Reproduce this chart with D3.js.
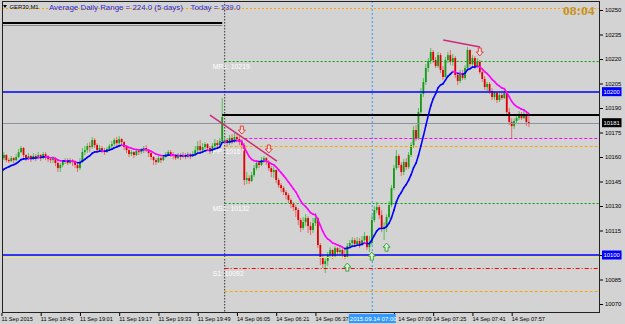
<!DOCTYPE html>
<html><head><meta charset="utf-8">
<script src="https://cdn.jsdelivr.net/npm/d3@7"></script>
<style>
html,body{margin:0;padding:0;background:#d3d3d3;}
svg{display:block;font-family:"Liberation Sans",Arial,sans-serif;}
</style></head><body>
<svg id="c" width="625" height="324"></svg>
<script>
// ---------- DATA (GER30, M1) ----------
const firstOpen = 10158.1;      // open of the first visible Friday bar
const mondayOpen = 10168.5;     // Monday gap open
const closesFri = [10159.3,10161.2,10158.1,10157.5,10159.3,10158.1,10160.0,10163.0,10165.5,10161.2,
10159.3,10160.6,10158.7,10160.6,10160.0,10161.2,10159.3,10161.8,10160.6,10158.7,
10158.1,10159.3,10156.3,10153.2,10155.1,10156.9,10158.1,10156.3,10158.1,10156.9,
10155.1,10153.2,10156.9,10163.0,10164.2,10166.7,10166.1,10170.4,10167.3,10164.2,
10165.5,10164.2,10163.0,10164.9,10166.7,10167.9,10170.4,10168.5,10171.0,10169.1,
10166.1,10164.2,10161.8,10163.0,10161.2,10163.6,10163.0,10164.2,10165.5,10164.2,
10162.4,10160.0,10158.1,10156.9,10159.3,10158.1,10160.0,10161.2,10163.0,10161.8,
10160.6,10159.3,10161.2,10160.0,10161.2,10160.0,10161.8,10160.6,10161.8,10164.2,
10166.7,10164.2,10166.1,10167.9,10165.5,10163.6,10166.7,10168.5,10167.3,10169.8,
10184.5];
const highsFri = [10162.4,10163.0,10161.8,10159.3,10160.6,10160.0,10161.8,10164.9,10166.7,10166.1,
10161.8,10162.4,10161.2,10162.4,10161.8,10163.0,10161.8,10163.0,10163.0,10161.2,
10160.0,10160.6,10160.0,10157.5,10156.3,10158.1,10159.3,10159.3,10159.3,10158.7,
10158.1,10156.3,10159.3,10165.5,10166.7,10168.5,10169.1,10172.2,10171.6,10168.5,
10167.3,10166.7,10165.5,10166.1,10167.9,10169.8,10171.6,10172.2,10172.8,10171.6,
10169.8,10166.7,10164.9,10164.2,10163.6,10164.9,10164.9,10165.5,10166.7,10167.3,
10164.9,10163.0,10160.6,10159.3,10160.6,10160.0,10161.2,10163.0,10164.2,10164.2,
10163.0,10161.8,10162.4,10162.4,10163.0,10162.4,10163.0,10162.4,10163.6,10166.7,
10169.8,10170.4,10168.5,10169.1,10168.5,10166.7,10168.5,10171.0,10170.4,10171.6,
10196.1];
const lowsFri = [10156.9,10158.1,10156.9,10156.3,10156.9,10156.3,10157.5,10159.3,10162.4,10159.3,
10157.5,10158.1,10156.9,10158.1,10157.5,10158.7,10157.5,10158.7,10158.1,10156.9,
10156.3,10156.3,10154.4,10150.8,10150.8,10153.8,10155.7,10155.1,10155.7,10154.4,
10153.2,10150.8,10152.0,10156.3,10161.2,10162.4,10163.0,10164.9,10165.5,10162.4,
10163.0,10162.4,10161.2,10162.4,10163.6,10165.5,10166.7,10166.7,10167.3,10166.7,
10164.2,10162.4,10160.0,10160.6,10159.3,10160.6,10161.2,10161.8,10162.4,10163.0,
10160.0,10158.1,10155.1,10155.1,10156.3,10156.3,10157.5,10159.3,10160.6,10160.0,
10158.7,10158.1,10158.7,10158.1,10159.3,10158.7,10159.3,10158.7,10160.0,10160.6,
10163.0,10163.0,10163.0,10164.9,10163.6,10161.8,10162.4,10165.5,10165.5,10166.7,
10168.5];
const closesMon = [10170.4,10168.5,10171.6,10169.8,10172.2,10171.0,10169.1,10167.3,10145.9,
10147.1,10145.3,10148.9,10153.2,10156.3,10155.1,10158.1,10159.3,10156.9,10153.2,
10150.8,10152.0,10145.9,10142.8,10141.0,10138.5,10136.7,10133.6,10131.2,10129.3,
10127.5,10121.4,10116.5,10120.2,10122.6,10117.7,10115.3,10119.5,10122.6,10106.1,
10098.1,10094.4,10096.3,10099.9,10103.0,10099.3,10104.2,10101.8,10103.0,10100.6,
10098.7,10105.5,10107.3,10109.1,10106.7,10108.5,10106.7,10109.1,10111.6,10104.8,
10107.3,10121.4,10127.5,10129.3,10124.4,10116.5,10117.1,10123.2,10130.6,10141.0,
10153.2,10160.6,10155.1,10150.8,10156.9,10153.8,10161.2,10167.3,10176.5,10171.6,
10187.5,10198.6,10205.9,10214.5,10218.8,10224.3,10219.4,10215.7,10222.4,10213.3,
10209.0,10219.4,10222.4,10218.2,10220.6,10210.2,10206.5,10211.4,10208.4,10214.5,
10225.5,10216.9,10220.6,10215.7,10218.2,10212.0,10207.8,10202.8,10204.7,10200.4,
10196.7,10199.2,10194.9,10197.9,10196.1,10199.2,10187.5,10181.4,10178.9,10182.0,
10183.8,10186.3,10183.8,10186.3,10181.4,10180.8];
const highsMon = [10172.2,10171.6,10173.4,10174.0,10174.7,10174.0,10172.8,10171.0,10168.5,
10150.8,10148.9,10150.8,10155.1,10158.1,10158.1,10160.0,10160.6,10160.0,10158.1,
10154.4,10154.4,10152.6,10147.1,10144.0,10142.2,10139.7,10137.9,10134.8,10132.4,
10130.6,10128.7,10122.6,10123.2,10125.0,10123.8,10120.2,10122.6,10125.7,10123.2,
10107.3,10099.9,10098.1,10101.8,10104.8,10103.6,10105.5,10104.8,10105.5,10104.8,
10104.2,10107.3,10109.1,10111.0,10110.4,10111.0,10110.4,10111.6,10114.0,10112.2,
10111.6,10124.4,10129.9,10132.4,10130.6,10127.5,10120.2,10125.0,10133.0,10142.8,
10155.1,10164.2,10161.8,10156.9,10158.7,10159.3,10163.0,10169.1,10178.9,10179.6,
10190.0,10202.2,10208.4,10216.9,10220.6,10226.7,10225.5,10221.2,10224.3,10223.7,
10215.7,10221.2,10224.3,10225.5,10223.1,10221.8,10212.0,10213.3,10213.3,10216.3,
10227.3,10226.1,10222.4,10221.8,10220.6,10219.4,10213.9,10209.6,10205.9,10205.9,
10202.2,10200.4,10199.8,10199.2,10199.2,10201.0,10199.8,10190.0,10183.8,10183.8,
10185.7,10188.1,10187.5,10188.1,10186.9,10185.1];
const lowsMon = [10167.9,10166.1,10167.3,10167.9,10168.5,10169.1,10167.3,10164.2,10142.8,
10143.4,10143.4,10144.6,10147.7,10152.0,10153.2,10154.4,10156.3,10155.1,10151.4,
10147.7,10147.1,10144.0,10141.0,10138.5,10136.7,10134.2,10131.8,10128.7,10126.9,
10123.2,10118.3,10114.0,10115.3,10117.7,10113.4,10112.2,10113.4,10117.7,10104.2,
10093.8,10092.0,10088.9,10093.2,10098.1,10097.5,10098.7,10099.9,10099.3,10098.1,
10097.5,10098.1,10104.2,10105.5,10104.8,10105.5,10104.2,10105.5,10107.3,10103.0,
10101.8,10106.1,10120.2,10125.7,10122.0,10114.0,10109.1,10114.0,10122.0,10129.3,
10139.7,10152.0,10153.2,10148.3,10148.9,10152.0,10152.6,10160.0,10165.5,10169.8,
10170.4,10185.7,10196.7,10204.1,10212.0,10216.9,10217.5,10214.5,10214.5,10211.4,
10207.1,10208.4,10217.5,10216.3,10215.7,10208.4,10204.1,10205.3,10207.1,10207.1,
10213.3,10215.1,10215.7,10213.9,10214.5,10210.8,10205.9,10201.0,10200.4,10198.6,
10194.9,10194.9,10193.0,10193.6,10194.9,10195.5,10185.7,10179.6,10171.6,10177.1,
10180.2,10182.6,10182.6,10183.2,10178.9,10178.3];

const maSeed = 10150.9;      // MA value at the first visible bar
const maPeriod = 12;

const yTicks = [10250,10235,10220,10205,10190,10175,10160,10145,10130,10115,10100,10085,10070];
const xTickIdx = [0,16,32,48,64,80,96,112,128,160,176,192,208];
const xTickLabels = ["11 Sep 2015","11 Sep 18:45","11 Sep 19:01","11 Sep 19:17","11 Sep 19:33","11 Sep 19:49",
  "14 Sep 06:05","14 Sep 06:21","14 Sep 06:37","14 Sep 07:09","14 Sep 07:25","14 Sep 07:41","14 Sep 07:57"];
const cursorIdx = 151, cursorLabel = "2015.09.14 07:00";
const dayStartIdx = 91;

const levelNames  = ["adrHigh","prevHigh","prevHigh2","mr1","r200","dayHigh","mag","pivot","ms1","r100","yel","s1","adrLow"];
const levelValues = [10251.2, 10242.0, 10240.6, 10218.6, 10200.0, 10185.7, 10171.6, 10166.7, 10131.6, 10100.0, 10098.7, 10092.0, 10078.0];
const levelTexts  = {mr1:"MR1: 10219", pivot:"PP: 10167", ms1:"MS1: 10132", s1:"S1: 10092"};
const boxValues = [10200, 10100];

const sellIdx = [98, 109, 195], sellPrice = [10176.5, 10164.9, 10224.3];
const buyIdx  = [141, 151, 157], buyPrice  = [10092.6, 10099.3, 10104.8];
const trendLines = [[85.0, 10185.7, 112.3, 10157.5],[180.1, 10231.6, 195.1, 10227.3]];
const adrText = "Average Daily Range = 224.0 (5 days)", todayText = "Today = 139.0";
const symbolText = "GER30,M1", clockText = "08:04";

// ---------- BUILD ----------
const closes = closesFri.concat(closesMon);
const highs = highsFri.concat(highsMon);
const lows = lowsFri.concat(lowsMon);
const bars = closes.map((c,i)=>({i,
  o: i===0 ? firstOpen : (i===dayStartIdx ? mondayOpen : closes[i-1]),
  h: highs[i], l: lows[i], c}));
const N = bars.length;
const lastClose = closes[N-1];

const W = 625, H = 324;
const L = 2, R = 600, T = 1, B = 313;
const svg = d3.select("#c");
const x = d3.scaleLinear().domain([0, 215]).range([1.45, 1.45 + 215*2.453]);
const y = d3.scaleLinear().domain([10070, 10250]).range([304, 10]);

svg.append("rect").attr("width",W).attr("height",H).attr("fill","#d3d3d3");
svg.append("clipPath").attr("id","clip").append("rect").attr("x",L).attr("y",T).attr("width",R-L).attr("height",B-T);
const plot = svg.append("g").attr("clip-path","url(#clip)");

// vertical lines
plot.append("line").attr("x1",x(dayStartIdx)).attr("x2",x(dayStartIdx)).attr("y1",T).attr("y2",B)
  .attr("stroke","#333").attr("stroke-width",1).attr("stroke-dasharray","1.5,1.5");
plot.append("line").attr("x1",x(cursorIdx)+0.4).attr("x2",x(cursorIdx)+0.4).attr("y1",T).attr("y2",B)
  .attr("stroke","#3399ff").attr("stroke-width",1).attr("stroke-dasharray","2,2");

function lvl(name){ return levelValues[levelNames.indexOf(name)]; }

// candles
const up = b => b.c >= b.o;
const cg = plot.append("g");
cg.selectAll("line.w").data(bars).join("line").attr("class","w")
  .attr("x1",b=>x(b.i)).attr("x2",b=>x(b.i)).attr("y1",b=>y(b.h)).attr("y2",b=>y(b.l))
  .attr("stroke",b=>up(b)?"#52c152":"#e86a6a").attr("stroke-width",1);
cg.selectAll("rect.b").data(bars).join("rect").attr("class","b")
  .attr("x",b=>x(b.i)-0.9).attr("width",1.8)
  .attr("y",b=>Math.min(y(b.o),y(b.c)))
  .attr("height",b=>Math.max(1,Math.abs(y(b.o)-y(b.c))))
  .attr("fill",b=>up(b)?"#159a15":"#e00000");

// level lines
const levelStyle = [
  ["adrHigh","#ffa500",1,"2,2",L,R],
  ["prevHigh","#000",2,null,L,x(90)],
  ["prevHigh2","#888",1,null,L,x(90)],
  ["mr1","#00a000",1,"2,2",x(dayStartIdx),R],
  ["r200","#0000ff",1.5,null,L,R],
  ["dayHigh","#000",2,null,x(90),R],
  ["mag","#ff00ff",1,"3,2",x(99),R],
  ["pivot","#ffa500",1,"3,2",x(dayStartIdx),R],
  ["ms1","#00a000",1,"2,2",x(dayStartIdx),R],
  ["yel","#e6e67a",1,null,L,R],
  ["r100","#0000ff",1.5,null,L,R],
  ["s1","#ff0000",1,"4,2,1,2",x(dayStartIdx),R],
  ["adrLow","#ffa500",1,"3,2",x(dayStartIdx),R]
];
const lg = plot.append("g");
levelStyle.forEach(([n,col,w,dash,x1,x2])=>{
  const yy = Math.round(y(lvl(n)))+ (w===1?0.5:0);
  const ln = lg.append("line").attr("x1",x1).attr("x2",x2).attr("y1",yy).attr("y2",yy)
    .attr("stroke",col).attr("stroke-width",w);
  if(dash) ln.attr("stroke-dasharray",dash);
});
// bid line
lg.append("line").attr("x1",L).attr("x2",R).attr("y1",Math.round(y(lastClose))+0.5).attr("y2",Math.round(y(lastClose))+0.5)
  .attr("stroke","#8a94a0").attr("stroke-width",1);

// level text labels
Object.entries(levelTexts).forEach(([n,t])=>{
  plot.append("text").attr("x",x(dayStartIdx)-12).attr("y",y(lvl(n))+7.5)
    .attr("font-size",6.8).attr("fill","#ffffff").text(t);
});

// moving average (EMA), blue rising / magenta falling
const a = 2/(maPeriod+1);
const ma = [];
closes.forEach((c,i)=>{ ma.push(i===0 ? maSeed : ma[i-1] + a*(c - ma[i-1])); });
const mg = plot.append("g");
for(let i=1;i<N;i++){
  mg.append("line").attr("x1",x(i-1)).attr("x2",x(i)).attr("y1",y(ma[i-1])).attr("y2",y(ma[i]))
    .attr("stroke", ma[i]>=ma[i-1] ? "#0000ff" : "#ff00ff").attr("stroke-width",1.6).attr("stroke-linecap","round");
}

// trend lines
trendLines.forEach(([i1,p1,i2,p2])=>{
  plot.append("line").attr("x1",x(i1)).attr("y1",y(p1)).attr("x2",x(i2)).attr("y2",y(p2))
    .attr("stroke","#cc2a78").attr("stroke-width",1.5);
});

// arrows
function arrowPath(cx,cy,dir){ // dir 1 = down, -1 = up
  const s = dir;
  return `M${cx-1.5},${cy-4*s} L${cx+1.5},${cy-4*s} L${cx+1.5},${cy} L${cx+3.5},${cy} L${cx},${cy+4*s} L${cx-3.5},${cy} L${cx-1.5},${cy} Z`;
}
sellIdx.forEach((ix,k)=>{
  plot.append("path").attr("d",arrowPath(x(ix),y(sellPrice[k]),1)).attr("fill","#f2dede").attr("stroke","#e03030").attr("stroke-width",0.9);
});
buyIdx.forEach((ix,k)=>{
  plot.append("path").attr("d",arrowPath(x(ix),y(buyPrice[k]),-1)).attr("fill","#dff2df").attr("stroke","#2a9a2a").attr("stroke-width",0.9);
});

// frame
svg.append("rect").attr("x",L+0.5).attr("y",T+0.5).attr("width",R-L-1).attr("height",B-T-1)
  .attr("fill","none").attr("stroke","#222").attr("stroke-width",1);

// y axis
const yAxis = d3.axisRight(y).tickValues(yTicks).tickSize(3).tickPadding(2).tickFormat(d3.format("d"));
const yg = svg.append("g").attr("transform",`translate(${R},0)`).call(yAxis);
yg.select(".domain").remove();
yg.selectAll("text").attr("font-size",5.9).attr("fill","#000").attr("font-family","Liberation Sans, Arial");
yg.selectAll("line").attr("stroke","#000");

// price boxes
function priceBox(v,bg){
  const yy = y(v);
  svg.append("rect").attr("x",R+2).attr("y",yy-4.5).attr("width",19.5).attr("height",9).attr("fill",bg);
  svg.append("text").attr("x",R+3.5).attr("y",yy+2).attr("font-size",5.9).attr("fill","#fff").text(d3.format("d")(v));
}
boxValues.forEach(v=>priceBox(v,"#0000ff"));
priceBox(Math.round(lastClose),"#000");

// x axis
const cx0 = x(cursorIdx);
const boxL = cx0-23, boxW = 47;
const xAxis = d3.axisBottom(x).tickValues(xTickIdx).tickSize(3).tickPadding(1)
  .tickFormat((d,i)=>xTickLabels[i]);
const xg = svg.append("g").attr("transform",`translate(0,${B})`).call(xAxis);
xg.select(".domain").remove();
xg.selectAll("text").attr("text-anchor","start").attr("font-size",5.6).attr("fill","#000")
  .attr("dx",d=> (x(d) < boxL+boxW+2 && x(d) > boxL) ? (boxL+boxW+2 - x(d)) : -0.5);
xg.selectAll("line").attr("stroke","#000");
// cursor label
svg.append("rect").attr("x",boxL).attr("y",B+1).attr("width",boxW).attr("height",9).attr("fill","#3399ff");
svg.append("text").attr("x",boxL+1).attr("y",B+7.5).attr("font-size",6.0).attr("fill","#fff").text(cursorLabel);

// header texts
svg.append("path").attr("d","M3,5 L7,5 L5,8 Z").attr("fill","#000");
svg.append("text").attr("x",9.5).attr("y",8.5).attr("font-size",5.9).attr("fill","#000").text(symbolText);
svg.append("text").attr("x",49).attr("y",10).attr("font-size",7.9).attr("fill","#2b2bd9").text(adrText);
svg.append("text").attr("x",190.5).attr("y",10).attr("font-size",7.9).attr("fill","#2b2bd9").text(todayText);
svg.append("text").attr("x",563).attr("y",14.5).attr("font-size",13.5).attr("font-weight","bold")
  .attr("font-family","Liberation Serif, serif").attr("fill","#c9901c").text(clockText);
</script>
</body></html>
